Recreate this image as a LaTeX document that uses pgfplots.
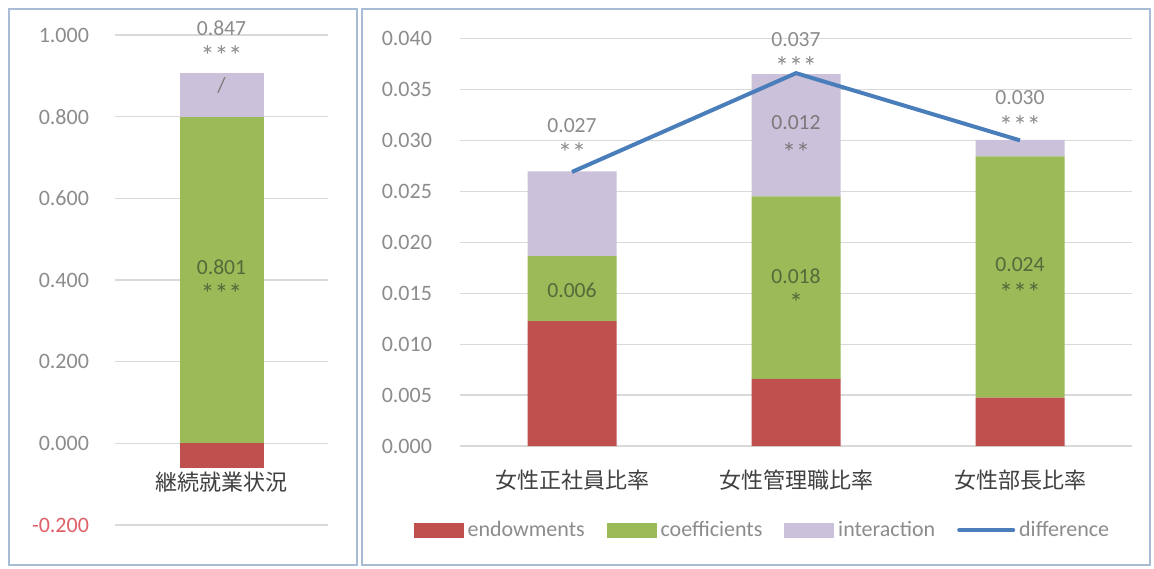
\documentclass[border=0pt]{standalone}
\usepackage{pgfplots}
\pgfplotsset{compat=1.18}
\usepackage{pgfplotstable}
\usepackage{fontspec}
\setmainfont{Carlito}
\newfontfamily\jp{Noto Sans CJK JP}
\definecolor{endc}{HTML}{C0504D}
\definecolor{coefc}{HTML}{9BBB59}
\definecolor{interc}{HTML}{CCC1DA}
\definecolor{diffc}{HTML}{4A7EBB}
\definecolor{gridc}{HTML}{D9D9D9}
\definecolor{tickc}{HTML}{8C8C8C}
\definecolor{negc}{HTML}{E0606A}
\definecolor{greenlab}{HTML}{56693A}
\definecolor{purplab}{HTML}{7A7A7A}
\definecolor{catc}{HTML}{404040}
\definecolor{framec}{HTML}{A9BCD6}

\pgfplotstableread{
x endow coef inter
0 0.01225 0.0064 0.0083
1 0.0066 0.0179 0.0120
2 0.00474 0.0237 0.0016
}\rightdata
\pgfplotstableread{
x diff
0 0.0269
1 0.0366
2 0.0300
}\diffdata

\pgfplotsset{panel/.style={scale only axis, anchor=south west,
  axis line style={draw=none}, tick style={draw=none},
  scaled y ticks=false,
  ymajorgrids, grid style={gridc, line width=0.6pt},
  yticklabel style={font=\fontsize{11}{12}\selectfont, text=tickc, anchor=east},
  clip=false}}
\tikzset{lab/.style={font=\fontsize{10.8}{12}\selectfont, text=tickc, inner sep=0pt},
  ast/.style={font=\fontsize{14}{14}\selectfont, text=tickc, inner sep=0pt}}

\begin{document}
\begin{tikzpicture}
\path[use as bounding box, fill=white] (0,0) rectangle (577pt,284pt);
\draw[framec, line width=0.8pt] (4.5pt,1.5pt) rectangle (178.5pt,279.5pt);
\draw[framec, line width=0.8pt] (181pt,1.5pt) rectangle (575pt,279.5pt);

% ---------- left panel ----------
\begin{axis}[panel, at={(57.5pt,21.5pt)}, width=106.5pt, height=245pt,
  xmin=-0.5, xmax=0.5, ymin=-0.2, ymax=1.0, xtick=\empty,
  ytick={-0.2,0,0.2,0.4,0.6,0.8,1.0},
  yticklabels={\textcolor{negc}{-0.200},0.000,0.200,0.400,0.600,0.800,1.000},
  yticklabel style={xshift=-9.5pt},
  ybar stacked, bar width=42pt]
\addplot[fill=coefc, draw=none] coordinates {(0,0.800)};
\addplot[fill=interc, draw=none] coordinates {(0,0.108)};
\end{axis}
\begin{axis}[scale only axis, anchor=south west, at={(57.5pt,21.5pt)}, width=106.5pt, height=245pt,
  xmin=-0.5, xmax=0.5, ymin=-0.2, ymax=1.0, hide axis, clip=false, ybar, bar width=42pt, bar shift=0pt]
\addplot[fill=endc, draw=none] coordinates {(0,-0.061)};
\node[lab] at (axis cs:0,1.016) {0.847};
\node[ast] at (axis cs:0,0.950) {***};
\node[lab, text=purplab] at (axis cs:0,0.876) {/};
\node[lab, text=greenlab] at (axis cs:0,0.431) {0.801};
\node[ast, text=greenlab] at (axis cs:0,0.367) {***};
\node[font=\jp\fontsize{11}{13}\selectfont, text=catc, yshift=-19.5pt] at (axis cs:0,0) {継続就業状況};
\end{axis}

% ---------- right panel ----------
\begin{axis}[panel, at={(230pt,61pt)}, width=336pt, height=203.75pt,
  xmin=-0.5, xmax=2.5, ymin=0, ymax=0.04,
  xtick={0,1,2},
  xticklabels={女性正社員比率,女性管理職比率,女性部長比率},
  xticklabel style={font=\jp\fontsize{11}{13}\selectfont, text=catc, anchor=center, yshift=-17pt},
  ytick={0,0.005,0.01,0.015,0.02,0.025,0.03,0.035,0.04},
  yticklabels={0.000,0.005,0.010,0.015,0.020,0.025,0.030,0.035,0.040},
  yticklabel style={xshift=-10.5pt},
  ybar stacked, bar width=44.5pt]
\addplot[fill=endc, draw=none] table[x=x,y=endow]{\rightdata};
\addplot[fill=coefc, draw=none] table[x=x,y=coef]{\rightdata};
\addplot[fill=interc, draw=none] table[x=x,y=inter]{\rightdata};
\end{axis}
\begin{axis}[scale only axis, anchor=south west, at={(230pt,61pt)}, width=336pt, height=203.75pt,
  xmin=-0.5, xmax=2.5, ymin=0, ymax=0.04, hide axis, clip=false,
  legend columns=4,
  legend style={draw=none, fill=none, at={(0.4516,-0.2061)}, anchor=center,
    font=\fontsize{11}{12}\selectfont, text=tickc,
    /tikz/every even column/.append style={column sep=9pt}},
  legend cell align=left]
\addlegendimage{legend image code/.code={\fill[endc] (0pt,-3.5pt) rectangle (24.5pt,3.5pt);}}
\addlegendentry{endowments}
\addlegendimage{legend image code/.code={\fill[coefc] (0pt,-3.5pt) rectangle (24.5pt,3.5pt);}}
\addlegendentry{coefficients}
\addlegendimage{legend image code/.code={\fill[interc] (0pt,-3.5pt) rectangle (24.5pt,3.5pt);}}
\addlegendentry{interaction}
\node[lab] at (axis cs:0,0.0315) {0.027};
\node[ast] at (axis cs:0,0.0288) {**};
\node[lab, text=greenlab] at (axis cs:0,0.0153) {0.006};
\node[lab] at (axis cs:1,0.03985) {0.037};
\node[ast] at (axis cs:1,0.0372) {***};
\node[lab, text=purplab] at (axis cs:1,0.0317) {0.012};
\node[ast, text=purplab] at (axis cs:1,0.0288) {**};
\node[lab, text=greenlab] at (axis cs:1,0.01669) {0.018};
\node[ast, text=greenlab] at (axis cs:1,0.0141) {*};
\node[lab] at (axis cs:2,0.03416) {0.030};
\node[ast] at (axis cs:2,0.0315) {***};
\node[lab, text=greenlab] at (axis cs:2,0.01777) {0.024};
\node[ast, text=greenlab] at (axis cs:2,0.0151) {***};
\addplot[diffc, line width=2pt, mark=none,
  legend image code/.code={\draw[diffc, line width=2pt, line cap=round] (0pt,0pt) -- (27pt,0pt);}]
  table[x=x,y=diff]{\diffdata};
\addlegendentry{difference}
\end{axis}
\end{tikzpicture}
\end{document}
